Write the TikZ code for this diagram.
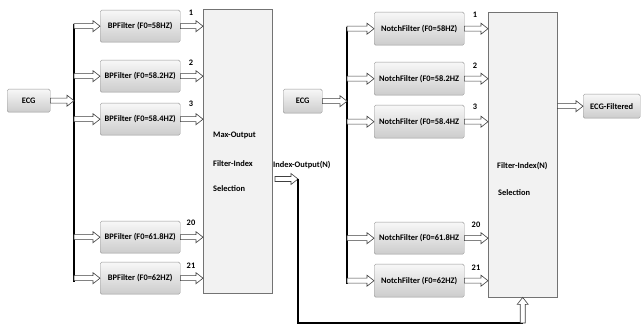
\documentclass[tikz,border=0pt]{standalone}
\usepackage{fontspec}
\setmainfont{Carlito}
\usetikzlibrary{calc}
\definecolor{boxgray}{RGB}{150,150,150}
\definecolor{bigfill}{RGB}{242,242,242}
\newcommand{\blkarrow}[2]{\path[blockarr] let \p1=#1, \p2=#2 in
  (\x1,\y1+2.5pt) -- (\x2-7pt,\y1+2.5pt) -- (\x2-7pt,\y1+5.5pt) -- (\x2,\y1)
  -- (\x2-7pt,\y1-5.5pt) -- (\x2-7pt,\y1-2.5pt) -- (\x1,\y1-2.5pt) -- cycle;}
\tikzset{
  fbox/.style={draw=boxgray, rounded corners=1.5pt, top color=black!3, bottom color=black!20,
    font=\bfseries\fontsize{8.4}{9}\selectfont, inner sep=0pt, anchor=north west},
  bigbox/.style={draw=black!55, fill=bigfill, inner sep=0pt, anchor=north west},
  blockarr/.style={draw=black!75, fill=white, line width=0.6pt, line join=miter},
  bus/.style={line width=2.4pt, black},
  lbl/.style={font=\bfseries\fontsize{8.4}{9}\selectfont, inner sep=0pt},
}
\begin{document}
\begin{tikzpicture}[x=1pt,y=-1pt]
\useasboundingbox (0,0) rectangle (641,326);
% ---------- left half ----------
\node[fbox, minimum width=43pt, minimum height=23pt] (ecgL) at (7,89) {ECG};
\node[fbox, minimum width=80pt, minimum height=32pt] (bp1) at (100,10) {BPFilter (F0=58HZ)};
\node[fbox, minimum width=80pt, minimum height=32pt] (bp2) at (100,60) {BPFilter (F0=58.2HZ)};
\node[fbox, minimum width=80pt, minimum height=32pt] (bp3) at (100,103) {BPFilter (F0=58.4HZ)};
\node[fbox, minimum width=80pt, minimum height=32pt] (bp20) at (100,221) {BPFilter (F0=61.8HZ)};
\node[fbox, minimum width=80pt, minimum height=32pt] (bp21) at (100,262) {BPFilter (F0=62HZ)};
\node[bigbox, minimum width=69pt, minimum height=284pt] (mo) at (203,9) {};
\node[lbl, anchor=west] (t1) at (213,135) {Max-Output};
\node[lbl, anchor=west] (t2) at (213,164) {Filter-Index};
\node[lbl, anchor=west] (t3) at (213,189) {Selection};

\coordinate (busLt) at (74,24);
\coordinate (busLb) at (74,282);
\draw[bus] (busLt) -- (busLb);
\blkarrow{(ecgL.east)}{(busLt |- ecgL.east)}
\foreach \b in {bp1,bp2,bp3,bp20,bp21}{
  \blkarrow{(busLt |- \b.west)}{(\b.west)}
  \blkarrow{(\b.east)}{(mo.west |- \b.east)}
}
\node[lbl] (n1) at (191,13) {1};
\node[lbl] (n2) at (191,63) {2};
\node[lbl] (n3) at (191,104) {3};
\node[lbl] (n20) at (191,223) {20};
\node[lbl] (n21) at (191,266) {21};

% index output
\node[lbl, anchor=west] (io) at (273,165) {Index-Output(N)};
\coordinate (ios) at (275,179);
\coordinate (iot) at (298,179);
\blkarrow{(ios)}{(iot)}

% ---------- right half ----------
\node[fbox, minimum width=39pt, minimum height=24pt] (ecgR) at (283,89) {ECG};
\node[fbox, minimum width=90pt, minimum height=33pt] (nf1) at (374,12) {NotchFilter (F0=58HZ)};
\node[fbox, minimum width=90pt, minimum height=33pt] (nf2) at (374,62) {NotchFilter (F0=58.2HZ};
\node[fbox, minimum width=90pt, minimum height=33pt] (nf3) at (374,105) {NotchFilter (F0=58.4HZ};
\node[fbox, minimum width=90pt, minimum height=32pt] (nf20) at (374,222) {NotchFilter (F0=61.8HZ};
\node[fbox, minimum width=90pt, minimum height=33pt] (nf21) at (374,264) {NotchFilter (F0=62HZ)};
\node[bigbox, minimum width=69pt, minimum height=285pt] (fi) at (488,12) {};
\node[lbl, anchor=west] (s1) at (497,166) {Filter-Index(N)};
\node[lbl, anchor=west] (s2) at (498,193) {Selection};
\node[fbox, minimum width=57pt, minimum height=24pt] (ecgF) at (583,94) {ECG-Filtered};

\coordinate (busRt) at (347,27);
\coordinate (busRb) at (347,284);
\draw[bus] (busRt) -- (busRb);
\blkarrow{(ecgR.east)}{(busRt |- ecgR.east)}
\foreach \b in {nf1,nf2,nf3,nf20,nf21}{
  \blkarrow{(busRt |- \b.west)}{(\b.west)}
  \blkarrow{(\b.east)}{(fi.west |- \b.east)}
}
\node[lbl] (m1) at (475,15) {1};
\node[lbl] (m2) at (475,66) {2};
\node[lbl] (m3) at (475,107) {3};
\node[lbl] (m20) at (476,225) {20};
\node[lbl] (m21) at (476,268) {21};
\blkarrow{(fi.east |- ecgF.west)}{(ecgF.west)}

% feedback line
\coordinate (fb) at (fi.south |- 0,323);
\draw[bus, line join=miter] (iot) |- (fb);
\path[blockarr] let \p1=(fb), \p2=(fi.south) in
  (\x1-2.5pt,\y1) -- (\x1-2.5pt,\y2-7pt) -- (\x1-5.5pt,\y2-7pt) -- (\x2,\y2)
  -- (\x1+5.5pt,\y2-7pt) -- (\x1+2.5pt,\y2-7pt) -- (\x1+2.5pt,\y1) -- cycle;
\end{tikzpicture}
\end{document}
